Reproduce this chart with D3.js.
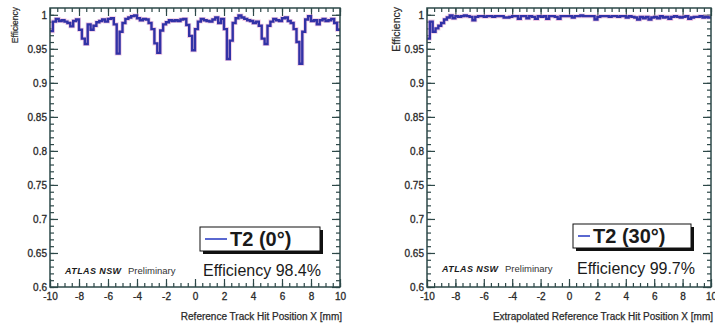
<!DOCTYPE html>
<html>
<head>
<meta charset="utf-8">
<script src="https://cdn.jsdelivr.net/npm/d3@7"></script>
<style>
    body { margin: 0; background: #ffffff; }
    text { font-family: "Liberation Sans", Arial, Helvetica, sans-serif; }
</style>
</head>
<body>
<script>

/* Histogram range, 100 bins of 0.2 mm from -10 to 10 */
const binLow = -10;
const binWidth = 0.2;

/* Efficiency per bin, T2 at 0 degrees */
const effT2_0 = [
    0.976, 0.990, 0.994, 0.991, 0.992, 0.990, 0.988, 0.983, 0.991, 0.993,
    0.978, 0.965, 0.957, 0.986, 0.978, 0.984, 0.989, 0.991, 0.993, 0.990,
    0.994, 0.995, 0.986, 0.943, 0.975, 0.988, 0.994, 0.996, 0.998, 0.999,
    0.995, 0.992, 0.994, 0.993, 0.988, 0.979, 0.958, 0.944, 0.977, 0.986,
    0.989, 0.992, 0.991, 0.992, 0.991, 0.993, 0.994, 0.985, 0.969, 0.948,
    0.979, 0.990, 0.994, 0.992, 0.991, 0.990, 0.993, 0.996, 0.988, 0.994,
    0.979, 0.935, 0.962, 0.988, 0.995, 0.999, 0.996, 0.994, 0.992, 0.991,
    0.988, 0.990, 0.984, 0.965, 0.957, 0.984, 0.990, 0.994, 0.992, 0.991,
    0.995, 0.996, 0.991, 0.988, 0.979, 0.960, 0.928, 0.975, 0.993, 0.998,
    0.991, 0.992, 0.986, 0.992, 0.994, 0.991, 0.992, 0.994, 0.988, 0.978
];

/* Efficiency per bin, T2 at 30 degrees */
const effT2_30 = [
    0.965, 0.990, 0.975, 0.980, 0.984, 0.988, 0.993, 0.996, 0.999, 0.995,
    0.998, 0.997, 0.998, 0.999, 0.998, 0.997, 0.992, 0.997, 0.998, 0.998,
    0.997, 0.998, 0.998, 0.997, 0.998, 0.998, 0.998, 0.996, 0.996, 0.997,
    0.998, 0.998, 0.994, 0.998, 0.998, 0.995, 0.998, 0.997, 0.994, 0.998,
    0.997, 0.998, 0.994, 0.998, 0.998, 0.997, 0.994, 0.998, 0.998, 0.998,
    0.998, 0.996, 0.998, 0.998, 0.999, 0.998, 0.998, 0.998, 0.998, 0.993,
    0.997, 0.998, 0.998, 0.998, 0.997, 0.998, 0.998, 0.997, 0.998, 0.998,
    0.996, 0.998, 0.997, 0.996, 0.993, 0.997, 0.995, 0.997, 0.993, 0.996,
    0.997, 0.995, 0.998, 0.996, 0.997, 0.994, 0.997, 0.998, 0.997, 0.996,
    0.997, 0.998, 0.994, 0.996, 0.997, 0.997, 0.998, 0.996, 0.997, 0.996
];

/* Axis ticks and labels */
const xTicks = [-10, -8, -6, -4, -2, 0, 2, 4, 6, 8, 10];
const yTicks = [0.6, 0.65, 0.7, 0.75, 0.8, 0.85, 0.9, 0.95, 1];
const xMinorStep = 0.5;
const yMinorStep = 0.01;

/* Texts */
const legendLabels = ["T2 (0°)", "T2 (30°)"];
const efficiencyLabels = ["Efficiency 98.4%", "Efficiency 99.7%"];
const xTitles = ["Reference Track Hit Position X [mm]", "Extrapolated Reference Track Hit Position X [mm]"];
const yTitle = "Efficiency";

const frameColor = "#2d4848";
const textColor = "#2a2a2a";
const lineColor = "#3232a6";

let svg = d3.select("body")
    .append("svg")
    .attr("width", 715)
    .attr("height", 324);

/* plain hyphen minus like ROOT, not the unicode minus */
let plainFormat = function(d) { return String(d); };

/**
 * Draw one ROOT style efficiency panel
 */
function drawPanel(p) {

    let xScale = d3.scaleLinear().domain([-10, 10]).range([p.left, p.right]);
    let yScale = d3.scaleLinear().domain([0.6, 1.01]).range([p.bottom, p.top]);

    let g = svg.append("g");

    /* minor ticks on all four sides */
    let xMinor = d3.range(-10, 10.001, xMinorStep);
    let yMinor = d3.range(0.6, 1.0099, yMinorStep);

    let addAxis = function(axis, tx, ty) {
        let a = g.append("g")
            .attr("transform", "translate(" + tx + "," + ty + ")")
            .call(axis);
        a.select(".domain").remove();
        a.selectAll("line").attr("stroke", frameColor).attr("stroke-width", 1.2);
        return a;
    };

    addAxis(d3.axisBottom(xScale).tickValues(xMinor).tickSize(-4).tickFormat(""), 0, p.bottom);
    addAxis(d3.axisTop(xScale).tickValues(xMinor).tickSize(-4).tickFormat(""), 0, p.top);
    addAxis(d3.axisLeft(yScale).tickValues(yMinor).tickSize(-4).tickFormat(""), p.left, 0);
    addAxis(d3.axisRight(yScale).tickValues(yMinor).tickSize(-4).tickFormat(""), p.right, 0);

    /* major ticks with labels */
    let xa = addAxis(d3.axisBottom(xScale).tickValues(xTicks).tickSize(-8).tickPadding(6).tickFormat(plainFormat), 0, p.bottom);
    addAxis(d3.axisTop(xScale).tickValues(xTicks).tickSize(-8).tickFormat(""), 0, p.top);
    let ya = addAxis(d3.axisLeft(yScale).tickValues(yTicks).tickSize(-8).tickPadding(3).tickFormat(plainFormat), p.left, 0);
    addAxis(d3.axisRight(yScale).tickValues(yTicks).tickSize(-8).tickFormat(""), p.right, 0);

    [xa, ya].forEach(function(a) {
        a.selectAll("text")
            .attr("fill", textColor)
            .attr("stroke", textColor)
            .attr("stroke-width", 0.3)
            .style("font-size", "10px")
            .style("font-family", "Liberation Sans, Arial");
    });

    /* histogram drawn as a step line */
    let pts = p.values.map(function(v, i) {
        return [binLow + i * binWidth, v];
    });
    pts.push([binLow + p.values.length * binWidth, p.values[p.values.length - 1]]);

    let line = d3.line()
        .x(function(d) { return xScale(d[0]); })
        .y(function(d) { return yScale(d[1]); })
        .curve(d3.curveStepAfter);

    g.append("path")
        .attr("d", line(pts))
        .attr("fill", "none")
        .attr("stroke", "#e6a6d2")
        .attr("stroke-width", 4)
        .attr("opacity", 0.6);

    g.append("path")
        .attr("d", line(pts))
        .attr("fill", "none")
        .attr("stroke", lineColor)
        .attr("stroke-width", 2.4);

    /* frame */
    g.append("rect")
        .attr("x", p.left)
        .attr("y", p.top)
        .attr("width", p.right - p.left)
        .attr("height", p.bottom - p.top)
        .attr("fill", "none")
        .attr("stroke", frameColor)
        .attr("stroke-width", 1.5);

    /* axis titles */
    g.append("text")
        .attr("x", p.right + 2)
        .attr("y", 320)
        .attr("text-anchor", "end")
        .style("font-size", "10px")
        .attr("fill", textColor)
        .attr("stroke", textColor)
        .attr("stroke-width", 0.25)
        .text(p.xTitle);

    g.append("text")
        .attr("transform", "translate(" + p.yTitleX + "," + (p.top - 1) + ") rotate(-90)")
        .attr("text-anchor", "end")
        .style("font-size", p.yTitleSize + "px")
        .attr("fill", textColor)
        .attr("stroke", textColor)
        .attr("stroke-width", 0.2)
        .text(yTitle);

    /* legend box with shadow */
    let lg = p.legend;
    g.append("rect")
        .attr("x", lg.x + 3).attr("y", lg.y + 3)
        .attr("width", lg.w).attr("height", lg.h)
        .attr("fill", "#111111");
    g.append("rect")
        .attr("x", lg.x).attr("y", lg.y)
        .attr("width", lg.w).attr("height", lg.h)
        .attr("fill", "#ffffff")
        .attr("stroke", "#111111")
        .attr("stroke-width", 1);
    g.append("line")
        .attr("x1", lg.x + 5).attr("x2", lg.x + lg.lineLen)
        .attr("y1", lg.y + lg.h / 2).attr("y2", lg.y + lg.h / 2)
        .attr("stroke", "#5a68d0")
        .attr("stroke-width", 2);
    g.append("text")
        .attr("x", lg.x + lg.lineLen + 3)
        .attr("y", lg.y + lg.h / 2 + 7)
        .style("font-size", "20px")
        .style("font-weight", "bold")
        .attr("fill", "#1a1a1a")
        .text(p.legendLabel);

    /* efficiency summary */
    g.append("text")
        .attr("x", p.effX)
        .attr("y", p.effY)
        .style("font-size", "16px")
        .attr("fill", "#1a1a1a")
        .text(p.effLabel);

    /* ATLAS NSW Preliminary */
    g.append("text")
        .attr("x", p.atlasX)
        .attr("y", p.effY - 2)
        .style("font-size", "9px")
        .style("font-weight", "bold")
        .style("font-style", "italic")
        .style("letter-spacing", "0.4px")
        .attr("fill", "#1a1a1a")
        .text("ATLAS NSW");
    g.append("text")
        .attr("x", p.prelimX)
        .attr("y", p.effY - 2)
        .style("font-size", "9.5px")
        .attr("fill", "#333333")
        .text("Preliminary");
}

drawPanel({
    left: 50, right: 340, top: 8, bottom: 287,
    values: effT2_0,
    xTitle: xTitles[0],
    yTitleX: 18, yTitleSize: 8.5,
    legend: { x: 200, y: 227, w: 120, h: 24, lineLen: 27 },
    legendLabel: legendLabels[0],
    effLabel: efficiencyLabels[0],
    effX: 203, effY: 276,
    atlasX: 65, prelimX: 128
});

drawPanel({
    left: 427, right: 711, top: 8, bottom: 287,
    values: effT2_30,
    xTitle: xTitles[1],
    yTitleX: 400, yTitleSize: 10.5,
    legend: { x: 573, y: 224, w: 118, h: 24, lineLen: 17 },
    legendLabel: legendLabels[1],
    effLabel: efficiencyLabels[1],
    effX: 577, effY: 274,
    atlasX: 442, prelimX: 505
});

</script>
</body>
</html>
